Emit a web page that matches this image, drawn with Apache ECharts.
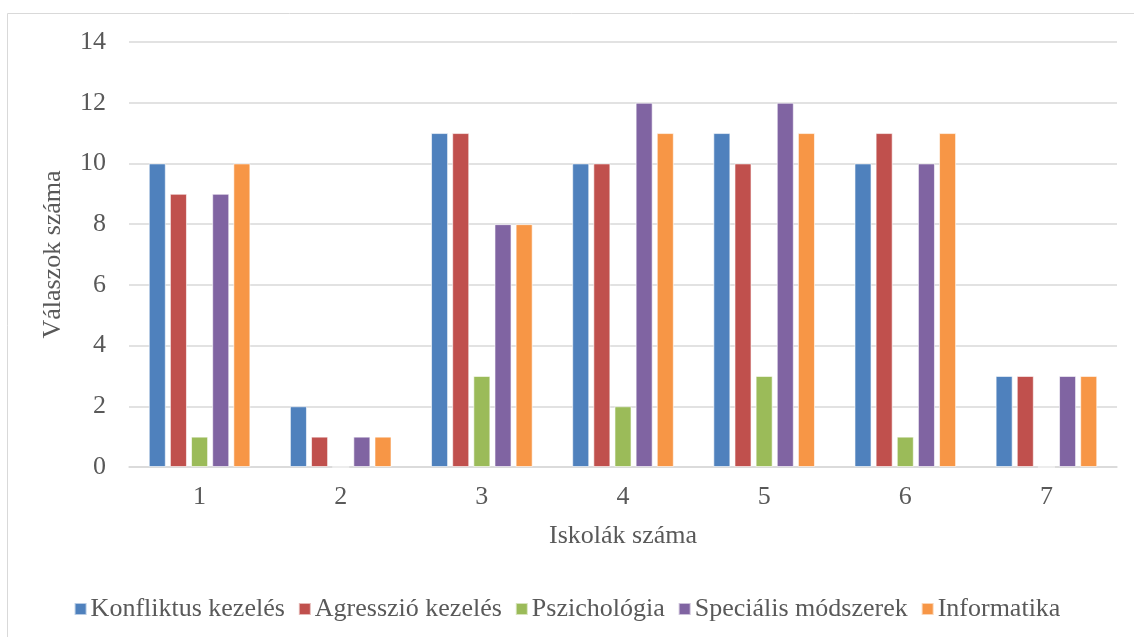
<!DOCTYPE html>
<html><head><meta charset="utf-8">
<script src="https://cdn.jsdelivr.net/npm/echarts@6/dist/echarts.min.js"></script>
<style>html,body{margin:0;padding:0;background:#fff}#c{width:1134px;height:637px}</style>
</head><body><div id="c"></div>
<script>
const categories = ['1','2','3','4','5','6','7'];
const seriesNames = ['Konfliktus kezelés','Agresszió kezelés','Pszichológia','Speciális módszerek','Informatika'];
const konfliktus = [10, 2, 11, 10, 11, 10, 3];
const agresszio = [9, 1, 11, 10, 10, 11, 3];
const pszichologia = [1, 0, 3, 2, 3, 1, 0];
const specialis = [9, 1, 8, 12, 12, 10, 3];
const informatika = [10, 1, 8, 11, 11, 11, 3];
const colors = ['#4F81BD','#C0504D','#9BBB59','#8064A2','#F79646'];
const values = [konfliktus, agresszio, pszichologia, specialis, informatika];
const font = '"Liberation Serif", "Times New Roman", serif';
const fs = 26;
const chart = echarts.init(document.getElementById('c'));
chart.setOption({
  animation: false,
  color: colors,
  textStyle: {fontFamily: font},
  graphic: [{type:'rect', shape:{x:7.5,y:13.5,width:1140,height:640}, style:{fill:'none', stroke:'#d9d9d9', lineWidth:1}, silent:true}],
  grid: {left:129, right:17, top:42, bottom:170},
  legend: {
    top: 591, left: 'center', itemWidth: 12, itemHeight: 12, itemGap: 13,
    icon: 'rect',
    textStyle: {fontFamily: font, fontSize: fs, color: '#595959', padding:[0,0,0,-1]},
    data: seriesNames
  },
  xAxis: {
    type: 'category', data: categories,
    name: 'Iskolák száma', nameLocation: 'middle', nameGap: 56,
    nameTextStyle: {fontFamily: font, fontSize: fs, color: '#595959'},
    axisLine: {lineStyle: {color: '#d9d9d9', width: 1.5}},
    axisTick: {show: false},
    axisLabel: {fontFamily: font, fontSize: fs, color: '#595959', margin: 17}
  },
  yAxis: {
    type: 'value', min: 0, max: 14, interval: 2,
    name: 'Válaszok száma', nameLocation: 'middle', nameGap: 63, nameRotate: 90,
    nameTextStyle: {fontFamily: font, fontSize: fs, color: '#595959'},
    axisLine: {show: false}, axisTick: {show: false},
    axisLabel: {fontFamily: font, fontSize: fs, color: '#595959', margin: 23},
    splitLine: {lineStyle: {color: '#d9d9d9', width: 1.5}}
  },
  series: seriesNames.map((n, i) => ({
    name: n, type: 'bar', data: values[i],
    barGap: '24%', barCategoryGap: '28%',
    itemStyle: {color: colors[i], borderColor: 'rgba(255,255,255,0.6)', borderWidth: 1}
  }))
});
</script></body></html>
